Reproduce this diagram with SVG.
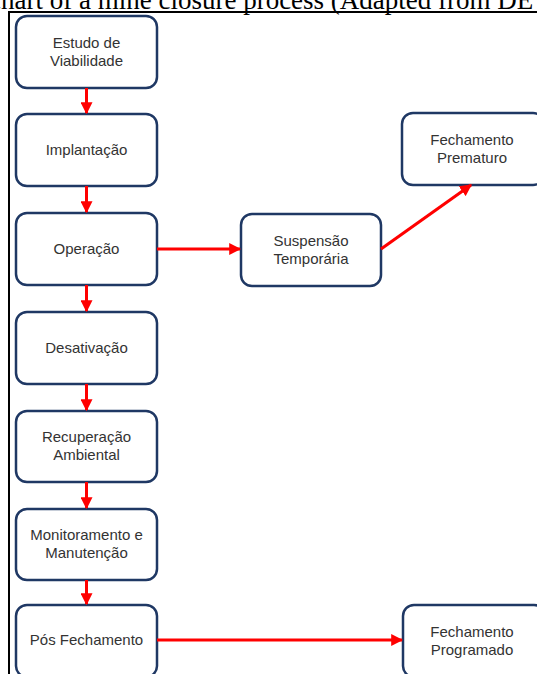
<svg xmlns="http://www.w3.org/2000/svg" width="537" height="674" viewBox="0 0 537 674">
<defs>
<style>
.box{fill:#fff;stroke:#1f3864;stroke-width:2.5}
.lbl{font-family:"Liberation Sans",Arial,sans-serif;font-size:15px;fill:#333;text-anchor:middle}
.con{stroke:#ff0000;stroke-width:3;fill:none}
.title{font-family:"Liberation Serif","Times New Roman",serif;font-size:27px;fill:#000}
</style>
<marker id="ah" viewBox="0 0 10 10" refX="9" refY="5" markerWidth="4" markerHeight="4" markerUnits="strokeWidth" orient="auto">
<path d="M0,0 L10,5 L0,10 z" fill="#ff0000"/>
</marker>
</defs>
<rect width="537" height="674" fill="#fff"/>
<text class="title" x="-11" y="9">chart of a mine closure process (Adapted from DE</text>
<path d="M9,674 V12 H537" fill="none" stroke="#000" stroke-width="2"/>
<g id="n1"><rect class="box" x="16" y="16" width="141" height="72" rx="11"/><text class="lbl" x="86.5" y="48">Estudo de</text><text class="lbl" x="86.5" y="66">Viabilidade</text></g>
<g id="n2"><rect class="box" x="16" y="114" width="141" height="72" rx="11"/><text class="lbl" x="86.5" y="155">Implantação</text></g>
<g id="n3"><rect class="box" x="16" y="213" width="141" height="72" rx="11"/><text class="lbl" x="86.5" y="254">Operação</text></g>
<g id="n4"><rect class="box" x="16" y="312" width="141" height="72" rx="11"/><text class="lbl" x="86.5" y="353">Desativação</text></g>
<g id="n5"><rect class="box" x="16" y="411" width="141" height="71" rx="11"/><text class="lbl" x="86.5" y="442">Recuperação</text><text class="lbl" x="86.5" y="460">Ambiental</text></g>
<g id="n6"><rect class="box" x="16" y="509" width="141" height="71" rx="11"/><text class="lbl" x="86.5" y="540">Monitoramento e</text><text class="lbl" x="86.5" y="558">Manutenção</text></g>
<g id="n7"><rect class="box" x="16" y="605" width="141" height="72" rx="11"/><text class="lbl" x="86.5" y="645">Pós Fechamento</text></g>
<g id="n8"><rect class="box" x="241" y="214" width="140" height="72" rx="11"/><text class="lbl" x="311" y="246">Suspensão</text><text class="lbl" x="311" y="264">Temporária</text></g>
<g id="n9"><rect class="box" x="402" y="113" width="142" height="72" rx="11"/><text class="lbl" x="472" y="145">Fechamento</text><text class="lbl" x="472" y="163">Prematuro</text></g>
<g id="n10"><rect class="box" x="403" y="605" width="142" height="72" rx="11"/><text class="lbl" x="472" y="637">Fechamento</text><text class="lbl" x="472" y="655">Programado</text></g>
<g id="connectors">
<path class="con" d="M86.5,88 V113" marker-end="url(#ah)"/>
<path class="con" d="M86.5,186 V212" marker-end="url(#ah)"/>
<path class="con" d="M86.5,285 V311" marker-end="url(#ah)"/>
<path class="con" d="M86.5,384 V410" marker-end="url(#ah)"/>
<path class="con" d="M86.5,482 V508" marker-end="url(#ah)"/>
<path class="con" d="M86.5,580 V604" marker-end="url(#ah)"/>
<path class="con" d="M157,249 H240" marker-end="url(#ah)"/>
<path class="con" d="M381,249 L471,185" marker-end="url(#ah)"/>
<path class="con" d="M157,640 H402" marker-end="url(#ah)"/>
</g>
</svg>
